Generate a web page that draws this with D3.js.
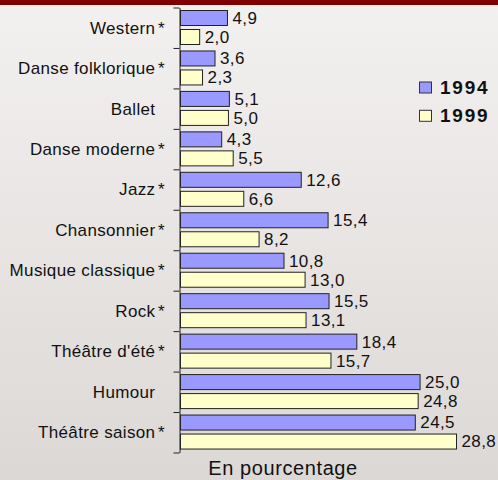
<!DOCTYPE html>
<html>
<head>
<meta charset="utf-8">
<script src="https://cdn.jsdelivr.net/npm/d3@7"></script>
<style>
  body { margin: 0; }
  svg { display: block; font-family: "Liberation Sans", Arial, sans-serif; }
</style>
</head>
<body>
<svg width="498" height="480"></svg>
<script>
var categories = ["Western", "Danse folklorique", "Ballet", "Danse moderne", "Jazz",
  "Chansonnier", "Musique classique", "Rock", "Théâtre d'été", "Humour", "Théâtre saison"];
var starred = [true, true, false, true, true, true, true, true, true, false, true];
var series = ["1994", "1999"];
var v1994 = [4.9, 3.6, 5.1, 4.3, 12.6, 15.4, 10.8, 15.5, 18.4, 25.0, 24.5];
var v1999 = [2.0, 2.3, 5.0, 5.5, 6.6, 8.2, 13.0, 13.1, 15.7, 24.8, 28.8];
var colors = ["#9999ff", "#ffffcc"];
var axisTitle = "En pourcentage";

var svg = d3.select("svg"),
    width = +svg.attr("width"),
    height = +svg.attr("height");

// background gradient + red strip on top
var grad = svg.append("defs").append("linearGradient")
    .attr("id", "bg").attr("x1", 0).attr("y1", 0).attr("x2", 0).attr("y2", 1);
grad.append("stop").attr("offset", "0%").attr("stop-color", "#f3f1f0");
grad.append("stop").attr("offset", "100%").attr("stop-color", "#dcd8d6");
svg.append("rect").attr("width", width).attr("height", height).attr("fill", "url(#bg)");
svg.append("rect").attr("width", width).attr("height", 5).attr("fill", "#800000");

var data = categories.map(function(c, i) {
  return {name: c, star: starred[i], values: [v1994[i], v1999[i]]};
});

var x = d3.scaleLinear().domain([0, 30]).range([180.5, 468]);

var y0 = d3.scaleBand()
    .domain(categories)
    .range([7.5, 452.5]);

var y1 = d3.scaleBand()
    .domain(series)
    .range([2.5, 37.5])
    .paddingInner(3 / 19);

var fr = d3.formatLocale({decimal: ",", thousands: " ", grouping: [3], currency: ["", ""]});
var fmt = fr.format(".1f");

// axis: ticks at band boundaries
var yb = d3.scaleLinear().domain([0, categories.length]).range(y0.range());
svg.append("g")
    .attr("transform", "translate(179.5,0)")
    .call(d3.axisLeft(yb).tickValues(d3.range(categories.length + 1)).tickSize(6).tickSizeOuter(0).tickFormat(""))
    .call(function(g) { g.selectAll("line, path").attr("stroke", "#222"); });

var cat = svg.selectAll(".cat")
  .data(data)
  .enter().append("g")
    .attr("class", "cat")
    .attr("transform", function(d) { return "translate(0," + y0(d.name) + ")"; });

cat.append("text")
    .attr("x", 155.4)
    .attr("y", y0.bandwidth() / 2)
    .attr("dy", "0.35em")
    .attr("text-anchor", "end")
    .style("font-size", "17px")
    .style("letter-spacing", "0.35px")
    .attr("fill", "#111")
    .text(function(d) { return d.name; });

cat.filter(function(d) { return d.star; }).append("text")
    .attr("x", 158)
    .attr("y", y0.bandwidth() / 2)
    .attr("dy", "0.35em")
    .style("font-size", "17px")
    .attr("fill", "#111")
    .text("*");

var bar = cat.selectAll(".bar")
  .data(function(d) { return d.values.map(function(v, j) { return {key: series[j], value: v, i: j}; }); })
  .enter().append("g")
    .attr("class", "bar");

bar.append("rect")
    .attr("x", x(0))
    .attr("y", function(d) { return y1(d.key) + 0.5; })
    .attr("width", function(d) { return x(d.value) - x(0); })
    .attr("height", y1.bandwidth() - 1)
    .attr("fill", function(d) { return colors[d.i]; })
    .attr("stroke", "#222")
    .attr("stroke-width", 1);

bar.append("text")
    .attr("x", function(d) { return x(d.value) + 5; })
    .attr("y", function(d) { return y1(d.key) + y1.bandwidth() / 2; })
    .attr("dy", "0.35em")
    .style("font-size", "17px")
    .style("letter-spacing", "0.4px")
    .attr("fill", "#111")
    .text(function(d) { return fmt(d.value); });

// legend
var legend = svg.selectAll(".legend")
  .data(series)
  .enter().append("g")
    .attr("class", "legend")
    .attr("transform", function(d, i) { return "translate(419.5," + (82 + i * 28.3) + ")"; });

legend.append("rect")
    .attr("width", 12)
    .attr("height", 11)
    .attr("fill", function(d, i) { return colors[i]; })
    .attr("stroke", "#333");

legend.append("text")
    .attr("x", 20.5)
    .attr("y", 11.5)
    .style("font-size", "19px")
    .style("font-weight", "bold")
    .style("letter-spacing", "1.8px")
    .attr("fill", "#111")
    .text(function(d) { return d; });

svg.append("text")
    .attr("x", 283)
    .attr("y", 475)
    .attr("text-anchor", "middle")
    .style("font-size", "20px")
    .style("letter-spacing", "0.6px")
    .attr("fill", "#111")
    .text(axisTitle);
</script>
</body>
</html>
